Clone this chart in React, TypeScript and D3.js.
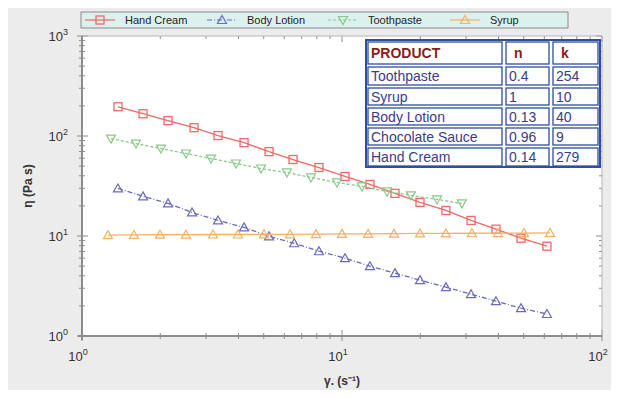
import React, { useEffect, useRef } from "react";
import * as d3 from "d3";

// shear rate / viscosity readings per product
const handCreamRate = [1.375, 1.717, 2.142, 2.697, 3.335, 4.2, 5.24, 6.48, 8.155, 10.27, 12.81, 15.99, 19.95, 25.1, 31.35, 39.1, 48.8, 61.4];
const handCreamEta = [196, 167, 142.5, 121, 101, 85.8, 69.8, 58.2, 48.4, 39.4, 32.8, 26.7, 21.7, 18.0, 14.3, 11.7, 9.5, 7.9];

const bodyLotionRate = [1.375, 1.717, 2.142, 2.65, 3.335, 4.2, 5.24, 6.55, 8.155, 10.27, 12.81, 15.99, 19.95, 25.1, 31.35, 39.1, 48.8, 61.4];
const bodyLotionEta = [29.9, 24.9, 21.2, 17.2, 14.3, 12.2, 9.93, 8.46, 7.04, 6.0, 4.99, 4.25, 3.62, 3.08, 2.62, 2.23, 1.9, 1.66];

const toothpasteRate = [1.293, 1.613, 2.013, 2.512, 3.134, 3.91, 4.88, 6.14, 7.6, 9.57, 11.94, 14.9, 18.4, 23.2, 28.9];
const toothpasteEta = [94.2, 84.0, 74.9, 66.8, 59.5, 53.1, 47.3, 43.2, 38.5, 34.3, 31.3, 27.9, 25.5, 23.2, 21.2];

const syrupRate = [1.259, 1.585, 1.995, 2.51, 3.19, 3.98, 5.01, 6.31, 7.94, 10, 12.6, 15.85, 19.95, 25.1, 31.6, 39.8, 50.1, 63.1];
const syrupEta = [10.2, 10.25, 10.3, 10.3, 10.35, 10.35, 10.4, 10.4, 10.45, 10.5, 10.5, 10.55, 10.6, 10.6, 10.65, 10.7, 10.7, 10.75];

const seriesNames = ["Hand Cream", "Body Lotion", "Toothpaste", "Syrup"];

const tableHeader = ["PRODUCT", "n", "k"];
const tableProducts = ["Toothpaste", "Syrup", "Body Lotion", "Chocolate Sauce", "Hand  Cream"];
const tableN = ["0.4", "1", "0.13", "0.96", "0.14"];
const tableK = ["254", "10", "40", "9", "279"];

const xDecades = [0, 1, 2];
const yDecades = [0, 1, 2, 3];

const FONT = "'Liberation Sans', Arial, sans-serif";

const App: React.FC = () => {
  const svgRef = useRef<SVGSVGElement | null>(null);

  useEffect(() => {
    if (!svgRef.current) return;
    const svg = d3.select(svgRef.current);
    svg.selectAll("*").remove();

    const left = 82, right = 602, top = 36, bottom = 336;
    const x = d3.scaleLog().domain([1, 100]).range([left, right]);
    const y = d3.scaleLog().domain([1, 1000]).range([bottom, top]);

    svg.append("rect").attr("width", 619).attr("height", 398).attr("fill", "#ebeceb");
    svg.append("rect")
      .attr("x", left).attr("y", top)
      .attr("width", right - left).attr("height", bottom - top)
      .attr("fill", "#fff");

    // ticks
    const axisColor = "#8c8c8c";
    const ticks = svg.append("g").attr("stroke", axisColor).attr("stroke-width", 1);
    const xTicks: { v: number; major: boolean }[] = [];
    for (let d = 0; d < 2; d++) {
      for (let m = 1; m < 10; m++) xTicks.push({ v: m * Math.pow(10, d), major: m === 1 });
    }
    xTicks.push({ v: 100, major: true });
    const yTicks: { v: number; major: boolean }[] = [];
    for (let d = 0; d < 3; d++) {
      for (let m = 1; m < 10; m++) yTicks.push({ v: m * Math.pow(10, d), major: m === 1 });
    }
    yTicks.push({ v: 1000, major: true });

    xTicks.forEach((t) => {
      const len = t.major ? 6 : 3;
      ticks.append("line").attr("x1", x(t.v)).attr("x2", x(t.v))
        .attr("y1", bottom - len).attr("y2", bottom + (t.major ? 5 : 3));
      ticks.append("line").attr("x1", x(t.v)).attr("x2", x(t.v))
        .attr("y1", top).attr("y2", top + len);
    });
    yTicks.forEach((t) => {
      const len = t.major ? 6 : 3;
      ticks.append("line").attr("y1", y(t.v)).attr("y2", y(t.v))
        .attr("x1", left - (t.major ? 5 : 3)).attr("x2", left + len);
      ticks.append("line").attr("y1", y(t.v)).attr("y2", y(t.v))
        .attr("x1", right - len).attr("x2", right);
    });

    // frame
    svg.append("rect")
      .attr("x", left).attr("y", top)
      .attr("width", right - left).attr("height", bottom - top)
      .attr("fill", "none").attr("stroke", "#b5b5b5").attr("stroke-width", 1);
    svg.append("line").attr("x1", left).attr("x2", left).attr("y1", top).attr("y2", bottom + 4)
      .attr("stroke", axisColor).attr("stroke-width", 2);
    svg.append("line").attr("x1", left - 4).attr("x2", right).attr("y1", bottom).attr("y2", bottom)
      .attr("stroke", axisColor).attr("stroke-width", 2);

    // tick labels
    const lab = svg.append("g").attr("font-family", FONT).attr("fill", "#333");
    xDecades.forEach((d) => {
      const t = lab.append("text").attr("x", x(Math.pow(10, d)) - 4).attr("y", 361)
        .attr("text-anchor", "middle").attr("font-size", 13);
      t.append("tspan").text("10");
      t.append("tspan").attr("dy", -6).attr("font-size", 9).text(String(d));
    });
    yDecades.forEach((d) => {
      const t = lab.append("text").attr("x", 68).attr("y", y(Math.pow(10, d)) + 5)
        .attr("text-anchor", "end").attr("font-size", 13);
      t.append("tspan").text("10");
      t.append("tspan").attr("dy", -6).attr("font-size", 9).text(String(d));
    });

    // axis titles
    svg.append("text").attr("x", 342).attr("y", 385).attr("text-anchor", "middle")
      .attr("font-family", FONT).attr("font-size", 12).attr("font-weight", "bold").attr("fill", "#333")
      .text("γ. (s⁻¹)");
    svg.append("text").attr("transform", "translate(32,186) rotate(-90)").attr("text-anchor", "middle")
      .attr("font-family", FONT).attr("font-size", 12).attr("font-weight", "bold").attr("fill", "#333")
      .text("η (Pa s)");

    // series
    const series = [
      { name: seriesNames[0], rate: handCreamRate, eta: handCreamEta, color: "#f06868", dash: null, shape: "square" },
      { name: seriesNames[1], rate: bodyLotionRate, eta: bodyLotionEta, color: "#6a6abd", dash: "5,2,1,2", shape: "up" },
      { name: seriesNames[2], rate: toothpasteRate, eta: toothpasteEta, color: "#88c988", dash: "3,2", shape: "down" },
      { name: seriesNames[3], rate: syrupRate, eta: syrupEta, color: "#f5b062", dash: null, shape: "up" },
    ];

    const line = d3.line<[number, number]>().x((d) => x(d[0])).y((d) => y(d[1]));
    const marker = (g: d3.Selection<SVGGElement, unknown, null, undefined>, shape: string, cx: number, cy: number, color: string) => {
      if (shape === "square") {
        g.append("rect").attr("x", cx - 4).attr("y", cy - 4).attr("width", 8).attr("height", 8)
          .attr("fill", "none").attr("stroke", color).attr("stroke-width", 1.3);
      } else {
        const s = shape === "up" ? 1 : -1;
        const p = d3.path();
        p.moveTo(cx, cy - 4.5 * s);
        p.lineTo(cx + 4.5, cy + 3.5 * s);
        p.lineTo(cx - 4.5, cy + 3.5 * s);
        p.closePath();
        g.append("path").attr("d", p.toString()).attr("fill", "none")
          .attr("stroke", color).attr("stroke-width", 1.2);
      }
    };

    const plot = svg.append("g");
    series.forEach((s) => {
      const pts = s.rate.map((r, i) => [r, s.eta[i]] as [number, number]);
      plot.append("path").attr("d", line(pts)).attr("fill", "none")
        .attr("stroke", s.color).attr("stroke-width", 1.3)
        .attr("stroke-dasharray", s.dash);
      const mg = plot.append("g");
      pts.forEach((p) => marker(mg as any, s.shape, x(p[0]), y(p[1]), s.color));
    });

    // legend
    const lg = svg.append("g");
    lg.append("rect").attr("x", 81).attr("y", 12).attr("width", 487).attr("height", 16)
      .attr("fill", "#dcf0ee").attr("stroke", "#8a8a8a").attr("stroke-width", 1);
    const legendX = [85, 207, 328, 450];
    series.forEach((s, i) => {
      const lx = legendX[i];
      lg.append("line").attr("x1", lx).attr("x2", lx + 30).attr("y1", 20).attr("y2", 20)
        .attr("stroke", s.color).attr("stroke-width", 1.2).attr("stroke-dasharray", s.dash);
      marker(lg as any, s.shape, lx + 15, 20, s.color);
      lg.append("text").attr("x", lx + 40).attr("y", 24).attr("font-family", FONT)
        .attr("font-size", 11).attr("fill", "#222").text(s.name);
    });

    // parameter table
    const tb = svg.append("g").attr("font-family", FONT);
    const colX = [366, 504, 551, 600];
    const rowY = [40, 65, 86, 106, 126, 146, 167];
    const blue = "#2f4ea3";
    tb.append("rect").attr("x", colX[0]).attr("y", rowY[0])
      .attr("width", colX[3] - colX[0]).attr("height", rowY[6] - rowY[0])
      .attr("fill", "#fff").attr("stroke", blue).attr("stroke-width", 2);
    const rows = [tableHeader, ...tableProducts.map((p, i) => [p, tableN[i], tableK[i]])];
    rows.forEach((row, r) => {
      row.forEach((cell, c) => {
        const cx0 = colX[c] + 2, cx1 = colX[c + 1] - 2;
        const cy0 = rowY[r] + 2, cy1 = rowY[r + 1] - (r === 0 ? 1 : 1);
        tb.append("rect").attr("x", cx0).attr("y", cy0).attr("width", cx1 - cx0).attr("height", cy1 - cy0)
          .attr("fill", "none").attr("stroke", blue).attr("stroke-width", 1.3);
        tb.append("text").attr("x", cx0 + (r === 0 && c > 0 ? 8 : 3))
          .attr("y", (cy0 + cy1) / 2 + 5)
          .attr("font-size", 14)
          .attr("font-weight", r === 0 ? "bold" : "normal")
          .attr("fill", r === 0 ? "#8a1c1c" : "#3b3b8c")
          .text(cell);
      });
    });
  }, []);

  return <svg ref={svgRef} width="619" height="398" style={{ display: "block", margin: -8 }}></svg>;
};

export default App;
